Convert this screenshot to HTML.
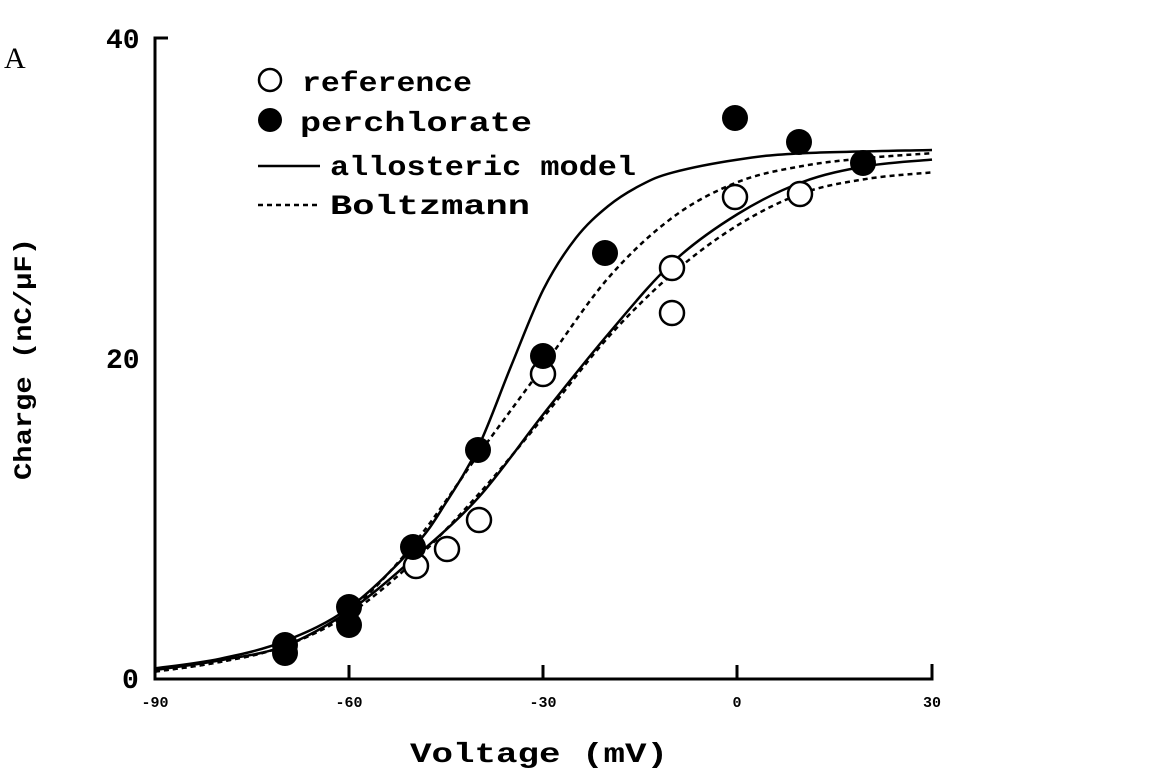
<!DOCTYPE html>
<html><head><meta charset="utf-8"><style>
html,body{margin:0;padding:0;background:#fff;}
svg{display:block;}
text{font-family:"Liberation Mono",monospace;font-weight:bold;fill:#000;}
</style></head><body>
<svg id="s" width="1152" height="778" viewBox="0 0 1152 778" xmlns="http://www.w3.org/2000/svg">
<text x="4" y="68" style="font-family:'Liberation Serif',serif;font-weight:normal;font-size:30px">A</text>
<path d="M168,38 H155 V679 H932 V664 M349,679 V665 M543,679 V665 M737,679 V665" fill="none" stroke="#000" stroke-width="3"/>
<text x="106" y="48" font-size="28">40</text>
<text x="106" y="368" font-size="28">20</text>
<text x="122" y="688" font-size="28">0</text>
<g font-size="15" text-anchor="middle">
<text x="155" y="707">-90</text><text x="349" y="707">-60</text><text x="543" y="707">-30</text><text x="737" y="707">0</text><text x="932" y="707">30</text>
</g>
<text x="410" y="762" font-size="28" textLength="258" lengthAdjust="spacingAndGlyphs">Voltage (mV)</text>
<text transform="translate(31,480) rotate(-90)" font-size="25" textLength="242" lengthAdjust="spacingAndGlyphs">Charge (nC/μF)</text>
<circle cx="270" cy="80" r="11" fill="none" stroke="#000" stroke-width="2.5"/>
<text x="302" y="91" font-size="28" textLength="170" lengthAdjust="spacingAndGlyphs">reference</text>
<circle cx="270" cy="120" r="12" fill="#000"/>
<text x="300" y="131" font-size="28" textLength="232" lengthAdjust="spacingAndGlyphs">perchlorate</text>
<line x1="258" y1="166" x2="320" y2="166" stroke="#000" stroke-width="2.5"/>
<text x="330" y="175" font-size="28" textLength="306" lengthAdjust="spacingAndGlyphs">allosteric model</text>
<line x1="258" y1="205" x2="320" y2="205" stroke="#000" stroke-width="2.5" stroke-dasharray="5,4"/>
<text x="330" y="214" font-size="28" textLength="200" lengthAdjust="spacingAndGlyphs">Boltzmann</text>
<g id="curves" fill="none" stroke="#000" stroke-width="2.5"></g>
<g fill="#fff" stroke="#000" stroke-width="2.5">
<circle cx="416" cy="566" r="12"/><circle cx="447" cy="549" r="12"/><circle cx="479" cy="520" r="12"/>
<circle cx="543" cy="374" r="12"/><circle cx="672" cy="268" r="12"/><circle cx="672" cy="313" r="12"/>
<circle cx="735" cy="197" r="12"/><circle cx="800" cy="194" r="12"/>
</g>
<g fill="#000">
<circle cx="285" cy="645" r="13"/><circle cx="285" cy="653" r="13"/><circle cx="349" cy="607" r="13"/><circle cx="349" cy="625" r="13"/>
<circle cx="413" cy="547" r="13"/><circle cx="478" cy="450" r="13"/><circle cx="543" cy="356" r="13"/>
<circle cx="605" cy="253" r="13"/><circle cx="735" cy="118" r="13"/><circle cx="799" cy="142" r="13"/><circle cx="863" cy="163" r="13"/>
</g>
</svg>
<script>
(function(){
function X(v){return 155+(v+90)*6.475;}
function Y(q){return 678-q*16;}
var sets=[
 [[[-90,0.6],[-80,1.2],[-70,2.3],[-60,4.4],[-50,8.2],[-45,11],[-40,14.5],[-35,19.5],[-30,24.3],[-25,27.5],[-20,29.5],[-15,30.8],[-10,31.6],[0,32.4],[10,32.8],[30,33]],""],
 [[[-90,0.4],[-80,1.0],[-70,2],[-60,4.2],[-50,8.4],[-40,14],[-30,19.5],[-20,25],[-10,28.8],[0,31],[10,32],[20,32.5],[30,32.8]],"5,4"],
 [[[-90,0.5],[-80,1.1],[-70,2],[-60,4.2],[-50,7.5],[-40,11.3],[-30,16.5],[-20,21.5],[-10,26],[0,29],[10,31],[20,32],[30,32.4]],""],
 [[[-90,0.4],[-80,1.0],[-70,2],[-60,4.0],[-50,7.3],[-40,11.5],[-30,16.3],[-20,21.3],[-10,25.3],[0,28.3],[10,30.3],[20,31.2],[30,31.6]],"5,4"]
];
var g=document.getElementById("curves");
sets.forEach(function(s){
 var P=s[0].map(function(p){return [X(p[0]),Y(p[1])];});
 var d="M"+P[0][0]+","+P[0][1];
 for(var i=0;i<P.length-1;i++){
  var p0=P[i-1]||P[i],p1=P[i],p2=P[i+1],p3=P[i+2]||P[i+1];
  var c1=[p1[0]+(p2[0]-p0[0])/6,p1[1]+(p2[1]-p0[1])/6];
  var c2=[p2[0]-(p3[0]-p1[0])/6,p2[1]-(p3[1]-p1[1])/6];
  d+="C"+c1.join(",")+" "+c2.join(",")+" "+p2.join(",");
 }
 var p=document.createElementNS("http://www.w3.org/2000/svg","path");
 p.setAttribute("d",d);
 if(s[1])p.setAttribute("stroke-dasharray",s[1]);
 g.appendChild(p);
});
})();
</script>
</body></html>
